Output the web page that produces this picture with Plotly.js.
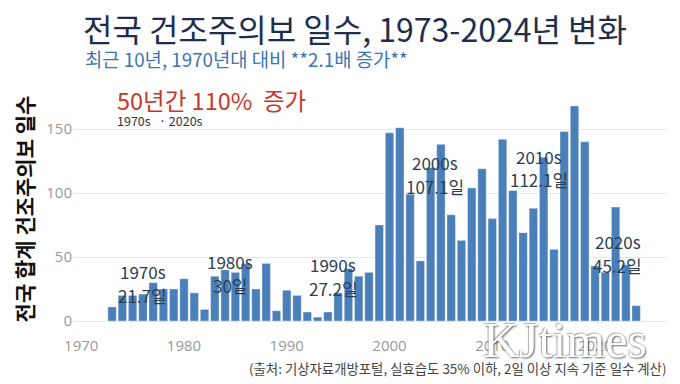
<!DOCTYPE html>
<html>
<head>
<meta charset="utf-8">
<script src="https://cdn.plot.ly/plotly-3.0.1.min.js"></script>
<style>html,body{margin:0;padding:0;background:#fff;}#chart{width:680px;height:384px;}</style>
</head>
<body>
<div id="chart"></div>
<script>
// ---- data ----
const years = [1973,1974,1975,1976,1977,1978,1979,
  1980,1981,1982,1983,1984,1985,1986,1987,1988,1989,
  1990,1991,1992,1993,1994,1995,1996,1997,1998,1999,
  2000,2001,2002,2003,2004,2005,2006,2007,2008,2009,
  2010,2011,2012,2013,2014,2015,2016,2017,2018,2019,
  2020,2021,2022,2023,2024];
const days = [11,20,20,21,30,25,25,
  33,22,9,35,40,38,45,25,45,8,
  24,20,7,3,7,22,41,35,38,75,
  147,151,99,47,120,138,83,63,104,119,
  80,142,102,69,88,128,56,148,168,140,
  43,38,89,44,12];
const decadeLabels = ['1970s','1980s','1990s','2000s','2010s','2020s'];
const decadeAvg = [21.7, 30, 27.2, 107.1, 112.1, 45.2];
const decadeAvgText = ['21.7일','30일','27.2일','107.1일','112.1일','45.2일'];
const decadeX = [1976, 1984.5, 1994.5, 2004.4, 2014.5, 2022.2];
const xTicks = [1970,1980,1990,2000,2010,2020];
const yTicks = [0,50,100,150];

const kr = '"Noto Sans CJK KR", "Noto Sans", sans-serif';

const trace = {
  type: 'bar', x: years, y: days,
  marker: {color: '#4a7fb9', line: {color: 'rgba(255,255,255,0.6)', width: 0.6}},
  width: 0.82, hoverinfo: 'x+y', showlegend: false
};

const annotations = [];
decadeLabels.forEach((d, i) => {
  annotations.push({
    x: decadeX[i], y: decadeAvg[i] + 16.6, xref: 'x', yref: 'y',
    text: d, showarrow: false,
    font: {family: kr, size: 17, color: '#2c3e50'},
    xanchor: 'center', yanchor: 'middle'
  });
  annotations.push({
    x: decadeX[i], y: decadeAvg[i] - 1.9, xref: 'x', yref: 'y',
    text: decadeAvgText[i], showarrow: false,
    font: {family: kr, size: 17, color: '#2c3e50'},
    xanchor: 'center', yanchor: 'middle'
  });
});
annotations.push({
  xref: 'paper', yref: 'paper', x: 0.0168, y: 1.17, xanchor: 'left', yanchor: 'middle',
  text: '최근 10년, 1970년대 대비 **2.1배 증가**', showarrow: false,
  font: {family: kr, size: 18.8, color: '#3b76b0'}
});
annotations.push({
  xref: 'paper', yref: 'paper', x: 0.0707, y: 0.985, xanchor: 'left', yanchor: 'middle',
  text: '50년간 110%  증가', showarrow: false,
  font: {family: kr, size: 23.5, color: '#c8372d'}
});
annotations.push({
  xref: 'paper', yref: 'paper', x: 0.0707, y: 0.893, xanchor: 'left', yanchor: 'middle',
  text: '1970s   · 2020s', showarrow: false,
  font: {family: kr, size: 12.5, color: '#333333'}
});
annotations.push({
  xref: 'paper', yref: 'paper', x: 1.0017, y: -0.21, xanchor: 'right', yanchor: 'middle',
  text: '(출처: 기상자료개방포털, 실효습도 35% 이하, 2일 이상 지속 기준 일수 계산)', showarrow: false,
  font: {family: kr, size: 13.4, color: '#444444'}
});
annotations.push({
  xref: 'paper', yref: 'paper', x: 0.828, y: -0.085, xanchor: 'center', yanchor: 'middle',
  text: 'KJtimes', showarrow: false,
  font: {family: '"Liberation Serif", "DejaVu Serif", serif', size: 50, color: '#ffffff',
         shadow: '1px 1px 2px rgba(0,0,0,0.6), -1px -1px 1px rgba(0,0,0,0.3)'}
});

const layout = {
  width: 680, height: 384,
  margin: {l: 73, r: 13, t: 97, b: 63},
  paper_bgcolor: '#ffffff', plot_bgcolor: '#ffffff',
  title: {
    text: '전국 건조주의보 일수, 1973-2024년 변화',
    font: {family: kr, size: 32, color: '#1f2e4d'},
    xref: 'container', yref: 'container', x: 0.122, xanchor: 'left', y: 0.92, yanchor: 'middle'
  },
  xaxis: {
    range: [1969.2, 2027.0], tickvals: xTicks, ticktext: xTicks.map(String),
    showgrid: false, zeroline: false, showline: false,
    ticks: 'outside', ticklen: 11, tickcolor: 'rgba(0,0,0,0)',
    tickfont: {family: '"Open Sans", "Noto Sans", sans-serif', size: 15, color: '#9a9a9a'}
  },
  yaxis: {
    range: [0, 175], tickvals: yTicks, ticktext: yTicks.map(String),
    showgrid: true, gridcolor: '#e6e6e6', gridwidth: 1,
    zeroline: true, zerolinecolor: '#e6e6e6', zerolinewidth: 1, showline: false,
    ticks: '', ticklabelstandoff: 0,
    tickfont: {family: '"Open Sans", "Noto Sans", sans-serif', size: 15, color: '#9a9a9a'},
    title: {text: '전국 합계 건조주의보 일수', standoff: 6,
            font: {family: kr, size: 21, color: '#111111', weight: 'bold'}}
  },
  bargap: 0.18,
  annotations: annotations
};

Plotly.newPlot('chart', [trace], layout, {displayModeBar: false, staticPlot: true});
</script>
</body>
</html>
